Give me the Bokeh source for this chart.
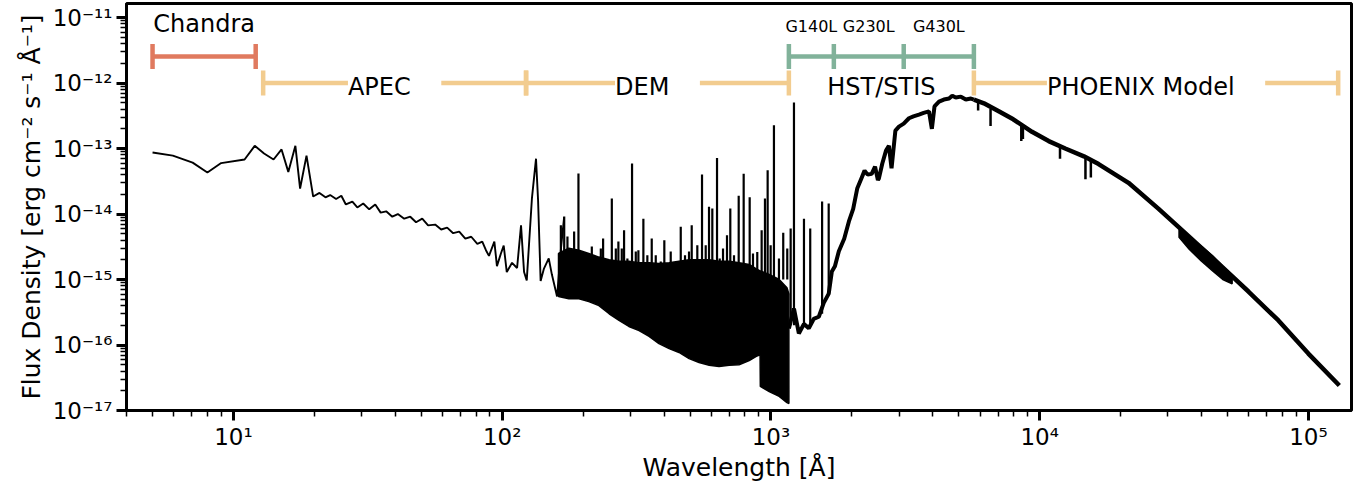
import numpy as np
from bokeh.plotting import figure
from bokeh.models import Range1d, FixedTicker, CustomJSTickFormatter, LabelSet, ColumnDataSource
from bokeh.core.properties import value
from bokeh.embed import file_html
from bokeh.resources import INLINE

# ---------------- spectrum data ----------------
# X-ray / EUV part (Chandra + APEC)
xray_wl = [5.0, 5.95, 7.05, 8.0, 9.0, 11.0, 12.0, 13.0, 14.1, 15.1, 16.0, 17.0, 17.7, 18.7,
           19.8, 20.9, 22.0, 22.9, 24.1, 25.2, 26.2, 27.7, 28.9, 30.4, 32.0, 33.7, 35.3, 37.0,
           39.0, 40.9, 43.2, 45.5, 47.8, 50.4, 53.0, 56.3, 59.3, 62.4, 65.7, 69.2, 72.9, 76.7,
           80.8, 84.3, 87.0, 89.3, 93.5, 95.6, 98.9, 101.3, 104.0, 108.8, 113.6, 117.5, 120.6,
           123.4, 129.0, 133.6, 136.0, 139.0, 143.0, 149.0, 153.0, 160.0, 165.5, 170.0]
xray_flux = [8.7e-14, 7.8e-14, 6.1e-14, 4.3e-14, 6.0e-14, 6.8e-14, 1.1e-13, 8.4e-14, 6.8e-14,
             9.7e-14, 4.4e-14, 1.1e-13, 2.45e-14, 7.8e-14, 1.85e-14, 2.1e-14, 1.8e-14, 1.95e-14,
             1.7e-14, 1.9e-14, 1.4e-14, 1.55e-14, 1.26e-14, 1.45e-14, 1.18e-14, 1.4e-14, 1.05e-14,
             1.1e-14, 9.1e-15, 1.0e-14, 8.5e-15, 9.1e-15, 7.5e-15, 8.5e-15, 6.7e-15, 6.9e-15,
             5.8e-15, 6.2e-15, 5.1e-15, 5.4e-15, 4.2e-15, 4.5e-15, 3.5e-15, 3.8e-15, 2.8e-15,
             2.3e-15, 3.8e-15, 1.6e-15, 2.5e-15, 3.3e-15, 1.3e-15, 1.8e-15, 1.5e-15, 6.7e-15,
             1.3e-15, 9.7e-16, 1.73e-14, 7.0e-14, 1.6e-14, 9.5e-16, 1.47e-15, 2.1e-15, 1.2e-15,
             5.5e-16, 3.0e-15, 9.0e-15]

# DEM line forest: dense core (upper and lower envelope)
dem_wl = [162, 177, 193, 210, 229, 250, 272, 296, 323, 352, 383, 418, 455, 496, 540, 589,
          641, 699, 761, 830, 882, 911, 913, 985, 1073, 1147, 1166]
dem_hi = [2.5e-15, 3.0e-15, 2.8e-15, 2.5e-15, 2.2e-15, 2.0e-15, 1.9e-15, 1.9e-15, 1.8e-15,
          1.8e-15, 1.75e-15, 1.8e-15, 1.9e-15, 2.0e-15, 2.0e-15, 2.0e-15, 1.9e-15, 1.9e-15,
          1.8e-15, 1.7e-15, 1.45e-15, 1.35e-15, 1.35e-15, 1.2e-15, 1.0e-15, 7.5e-16, 6.0e-16]
dem_lo = [5.5e-16, 5.1e-16, 5.1e-16, 4.6e-16, 4.0e-16, 3.0e-16, 2.37e-16, 1.92e-16, 1.66e-16,
          1.35e-16, 1.05e-16, 8.8e-17, 7.7e-17, 6.2e-17, 5.4e-17, 4.9e-17, 4.7e-17, 4.9e-17,
          5.0e-17, 5.8e-17, 6.7e-17, 7.1e-17, 2.33e-17, 1.95e-17, 1.64e-17, 1.32e-17, 1.28e-17]

# emission lines: wavelength, peak flux, base flux
line_wl = [165.3, 170.1, 174.9, 185.2, 192.2, 196.2, 203.5, 215.5, 219.8, 232.8, 237.4, 241.5,
           255.8, 264.7, 270.6, 278.6, 284.1, 292.3, 304.2, 314.1, 321.2, 335.2, 346.8, 360.1,
           372.7, 389.0, 401.1, 423.7, 442.3, 461.7, 478.9, 495.6, 507.2, 532.1, 554.0, 571.8,
           588.2, 605.1, 630.0, 644.7, 663.2, 686.2, 705.9, 728.7, 758.6, 791.6, 833.4, 857.3,
           889.4, 923.4, 950.0, 972.1, 997.4, 1026, 1071, 1111, 1150,
           1184, 1218, 1327, 1400, 1550, 1640]
line_peak = [6.75e-15, 9.16e-15, 4.53e-15, 5.4e-15, 4.15e-14, 2.35e-15, 1.88e-15, 3.19e-15,
             1.88e-15, 2.97e-15, 4.23e-15, 1.88e-15, 1.73e-14, 2.97e-15, 3.8e-15, 2.97e-15,
             5.66e-15, 2.09e-15, 5.9e-14, 2.67e-15, 2.8e-15, 8.5e-15, 2.35e-15, 4.23e-15,
             2.35e-15, 1.88e-15, 3.98e-15, 2.67e-15, 1.65e-15, 6.38e-15, 2.35e-15, 2.67e-15,
             6.75e-15, 3.34e-15, 4.0e-14, 3.34e-15, 1.29e-14, 1.21e-14, 7.2e-14, 2.09e-15,
             2.97e-15, 4.74e-15, 1.21e-14, 2.35e-15, 1.9e-14, 4.11e-14, 1.8e-14, 2.49e-15,
             2.64e-15, 5.66e-15, 1.73e-14, 4.67e-14, 3.34e-15, 2.27e-13, 2.09e-15, 5.16e-15,
             2.97e-15, 6.0e-15, 5.04e-13, 8.5e-15, 6.0e-15, 1.55e-14, 1.45e-14]
line_base = [1e-15] * 57 + [2e-16, 2e-16, 2e-16, 2e-16, 3e-16, 6e-16]

# HST/STIS part
hst_wl = [1166, 1218, 1270, 1327, 1383, 1442, 1507, 1572, 1641, 1685, 1730, 1789, 1873, 1950,
          2023, 2094, 2170, 2230, 2290, 2370, 2440, 2500, 2522, 2596, 2680, 2747, 2810, 2904,
          2994, 3119, 3262, 3390, 3554, 3700, 3873, 3970, 4060, 4220, 4400, 4600, 4727, 4870,
          5090, 5310, 5550, 5690]
hst_flux = [1.79e-16, 3.6e-16, 1.5e-16, 2.1e-16, 1.8e-16, 2.5e-16, 2.7e-16, 4.4e-16, 6.1e-16,
            1.33e-15, 1.6e-15, 2.7e-15, 4.2e-15, 7.7e-15, 1.2e-14, 2.45e-14, 3.5e-14, 4.6e-14,
            4.0e-14, 4.1e-14, 5.3e-14, 3.3e-14, 3.5e-14, 5.9e-14, 9.3e-14, 1.1e-13, 5.0e-14,
            1.88e-13, 2.16e-13, 2.4e-13, 2.9e-13, 3.1e-13, 3.3e-13, 3.5e-13, 3.7e-13, 2.0e-13,
            4.4e-13, 5.2e-13, 5.6e-13, 5.8e-13, 6.4e-13, 6.0e-13, 6.2e-13, 5.6e-13, 5.8e-13,
            5.6e-13]

# PHOENIX model part
phx_wl = [5690, 6200, 7040, 7970, 9360, 10800, 12440, 14600, 16560, 21400, 27700, 35800,
          46300, 59800, 77300, 99900, 130300]
phx_flux = [5.6e-13, 4.9e-13, 3.7e-13, 2.8e-13, 1.8e-13, 1.3e-13, 1.0e-13, 7.6e-14, 5.8e-14,
            3.0e-14, 1.2e-14, 4.6e-15, 1.75e-15, 6.56e-16, 2.37e-16, 7.4e-17, 2.41e-17]
# PHOENIX absorption band (thickened part) and single absorption features
band_wl = [33000, 36000, 40000, 44000, 48000, 52000]
band_top = [5.8e-15, 4.5e-15, 3.2e-15, 2.3e-15, 1.6e-15, 1.15e-15]
band_bot = [4.4e-15, 2.9e-15, 1.9e-15, 1.35e-15, 1.0e-15, 8.6e-16]
abs_wl = [5900, 6563, 8540, 8660, 11900, 14800, 15500]
abs_top = [5.3e-13, 4.0e-13, 2.3e-13, 2.2e-13, 1.05e-13, 7.4e-14, 6.8e-14]
abs_bot = [3.8e-13, 2.2e-13, 1.3e-13, 1.4e-13, 7.0e-14, 3.4e-14, 3.6e-14]

# ---------------- wavelength coverage bars ----------------
inst_names = ["Chandra", "APEC", "DEM", "HST/STIS", "PHOENIX Model"]
inst_start = [5.0, 12.9, 122.7, 1166.0, 5690.0]
inst_end = [12.1, 122.7, 1166.0, 5690.0, 129000.0]
inst_level = [2.54e-12, 1.0e-12, 1.0e-12, 2.54e-12, 1.0e-12]
inst_colors = ["#E07A5F", "#F2CC8F", "#F2CC8F", "#81B29A", "#F2CC8F"]
inst_label_y = [6.1e-12, 6.56e-13, 6.56e-13, 6.56e-13, 6.56e-13]
inst_label_bg = [None, "white", "white", None, "white"]

grating_names = ["G140L", "G230L", "G430L"]
grating_edges = [1166.0, 1714.0, 3119.0, 5690.0]
grating_label_y = 6.1e-12

x_major = [1e1, 1e2, 1e3, 1e4, 1e5]
y_major = [1e-17, 1e-16, 1e-15, 1e-14, 1e-13, 1e-12, 1e-11]

FONT = "DejaVu Sans"

p = figure(width=1353, height=485, x_axis_type="log", y_axis_type="log",
           x_range=Range1d(4.0, 1.446e5), y_range=Range1d(1e-17, 1.64e-11),
           output_backend="svg", toolbar_location=None,
           min_border_left=126, min_border_right=2, min_border_top=3, min_border_bottom=75,
           x_axis_label="Wavelength [Å]",
           y_axis_label="Flux Density [erg cm⁻² s⁻¹ Å⁻¹]")
p.outline_line_color = "black"
p.outline_line_width = 3
p.xgrid.visible = False
p.ygrid.visible = False
p.background_fill_color = "white"
p.border_fill_color = "white"

def minor_of(major):
    out = []
    for m in major:
        for k in range(2, 10):
            out.append(m * k)
    out += [major[0] / 10 * k for k in range(2, 10)]
    return out

p.xaxis.ticker = FixedTicker(ticks=x_major, minor_ticks=minor_of(x_major))
p.yaxis.ticker = FixedTicker(ticks=y_major, minor_ticks=minor_of(y_major))
fmt_code = """
const e = Math.round(Math.log10(tick));
const sup = {'-':'\u207b','0':'\u2070','1':'\u00b9','2':'\u00b2','3':'\u00b3','4':'\u2074',
             '5':'\u2075','6':'\u2076','7':'\u2077','8':'\u2078','9':'\u2079'};
return '10' + String(e).split('').map(c => sup[c]).join('');
"""
p.xaxis.formatter = CustomJSTickFormatter(code=fmt_code)
p.yaxis.formatter = CustomJSTickFormatter(code=fmt_code)

for ax in (p.xaxis[0], p.yaxis[0]):
    ax.axis_line_width = 3
    ax.axis_line_color = "black"
    ax.major_tick_line_width = 3
    ax.major_tick_line_color = "black"
    ax.minor_tick_line_width = 1.5
    ax.minor_tick_line_color = "black"
    ax.major_tick_in = 0
    ax.major_tick_out = 10
    ax.minor_tick_in = 0
    ax.minor_tick_out = 6
    ax.major_label_text_font = FONT
    ax.major_label_text_font_size = "23px"
    ax.major_label_text_color = "black"
    ax.axis_label_text_font = FONT
    ax.axis_label_text_font_size = "25px"
    ax.axis_label_text_font_style = "normal"
    ax.axis_label_text_color = "black"
p.xaxis.major_label_standoff = 3
p.yaxis.major_label_standoff = 4
p.xaxis.axis_label_standoff = 0
p.yaxis.axis_label_standoff = 4

# ---------------- spectrum ----------------
p.patch(dem_wl + dem_wl[::-1], dem_hi + dem_lo[::-1], fill_color="black",
        line_color="black", line_width=1.5)
p.segment(x0=line_wl, y0=line_base, x1=line_wl, y1=line_peak, line_color="black", line_width=2.2)
p.line(xray_wl, xray_flux, line_color="black", line_width=1.9)
p.line(hst_wl, hst_flux, line_color="black", line_width=4)
p.line(phx_wl, phx_flux, line_color="black", line_width=4.5)
p.patch(band_wl + band_wl[::-1], band_top + band_bot[::-1], fill_color="black",
        line_color="black", line_width=1.5)
p.segment(x0=abs_wl, y0=abs_bot, x1=abs_wl, y1=abs_top, line_color="black", line_width=2.5)

# ---------------- coverage bars ----------------
p.segment(x0=inst_start, y0=inst_level, x1=inst_end, y1=inst_level,
          line_color=inst_colors, line_width=4.5)
cap_x, cap_y, cap_c = [], [], []
for s, e, lv, c in zip(inst_start, inst_end, inst_level, inst_colors):
    cap_x += [s, e]; cap_y += [lv, lv]; cap_c += [c, c]
for g in grating_edges[1:-1]:
    cap_x.append(g); cap_y.append(inst_level[3]); cap_c.append(inst_colors[3])
p.scatter(cap_x, cap_y, marker="dash", size=25, angle=np.pi / 2,
          line_color=cap_c, line_width=4.5)

# labels
bg_idx = [i for i, b in enumerate(inst_label_bg) if b]
nobg_idx = [i for i, b in enumerate(inst_label_bg) if not b]
def lab_src(idx, pad):
    return ColumnDataSource(dict(
        x=[np.sqrt(inst_start[i] * inst_end[i]) for i in idx],
        y=[inst_label_y[i] for i in idx],
        t=[(pad + inst_names[i] + pad) for i in idx]))
p.add_layout(LabelSet(x="x", y="y", text="t", source=lab_src(bg_idx, "  "),
                      text_align="center", text_baseline="alphabetic",
                      text_font=value(FONT), text_font_size=value("24px"),
                      text_color="black", background_fill_color="white"))
p.add_layout(LabelSet(x="x", y="y", text="t", source=lab_src(nobg_idx, ""),
                      text_align="center", text_baseline="alphabetic",
                      text_font=value(FONT), text_font_size=value("24px"),
                      text_color="black"))
gsrc = ColumnDataSource(dict(
    x=[np.sqrt(grating_edges[i] * grating_edges[i + 1]) for i in range(3)],
    y=[grating_label_y] * 3, t=grating_names))
p.add_layout(LabelSet(x="x", y="y", text="t", source=gsrc, text_align="center",
                      text_baseline="alphabetic", text_font=value(FONT),
                      text_font_size=value("16px"), text_color="black"))

open("out.html", "w").write(file_html(p, INLINE))
